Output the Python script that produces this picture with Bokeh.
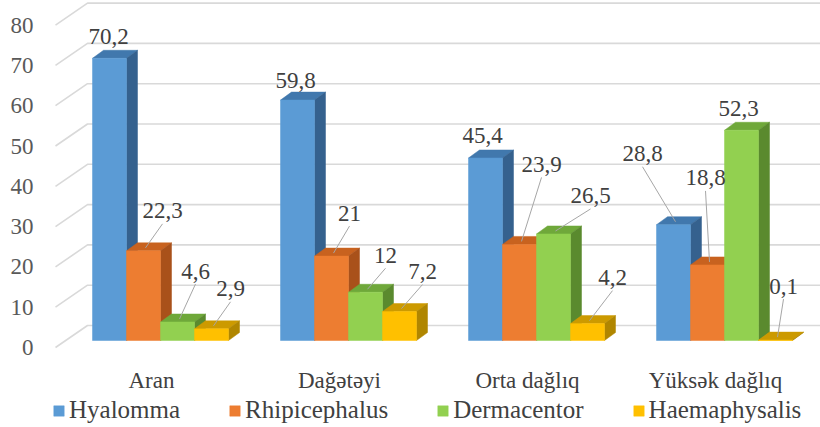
from bokeh.plotting import figure
from bokeh.models import Range1d, LinearAxis, FixedTicker, Legend, LegendItem, ColumnDataSource
from bokeh.core.properties import value
from bokeh.embed import file_html
from bokeh.resources import INLINE

# ---------------- data ----------------
categories = ["Aran", "Dağətəyi", "Orta dağlıq", "Yüksək dağlıq"]
series_names = ["Hyalomma", "Rhipicephalus", "Dermacentor", "Haemaphysalis"]
hyalomma = [70.2, 59.8, 45.4, 28.8]
rhipicephalus = [22.3, 21, 23.9, 18.8]
dermacentor = [4.6, 12, 26.5, 52.3]
haemaphysalis = [2.9, 7.2, 4.2, 0.1]
y_ticks = [0, 10, 20, 30, 40, 50, 60, 70, 80]

series_values = [hyalomma, rhipicephalus, dermacentor, haemaphysalis]

# ---------------- style / layout ----------------
FONT = "Tinos"
W, H = 820, 427
LEFT = 40                 # left border (axis area)
GROUP_PX = 188.0          # px between group centres
X0_PX = 160.0             # px of first group centre
BASE_PX = 340.0           # px of bar base (front plane)
PX_PER_UNIT = 4.02        # px per value unit (front plane)
BAR_PX = 34.0
SIDE_PX = 11.0
TOP_PX = 8.0

front_col = ["#5B9BD5", "#ED7D31", "#92D050", "#FFC000"]
top_col = ["#4178AD", "#C8621F", "#6FA83A", "#CC9A00"]
side_col = ["#35618E", "#A9511A", "#5A8A2E", "#B08600"]

# label offsets (px) from front-top centre of each bar, [series][group]
label_dx = [[-1, -2, -3, -31], [19, 18, 22, -2], [18, 20, 37, -3], [19, 23, 25, 8]]
label_dy = [[-22, -20, -22, -71], [-40, -43, -80, -87], [-51, -37, -38, -22], [-40, -40, -46, -54]]


def X(px):
    return (px - X0_PX) / GROUP_PX


def Y(py):
    return (BASE_PX - py) / PX_PER_UNIT


def ux(px):
    return px / GROUP_PX


def uy(px):
    return px / PX_PER_UNIT


p = figure(width=W, height=H, output_backend="svg", toolbar_location=None,
           x_range=Range1d(X(LEFT), X(W)), y_range=Range1d(Y(H), Y(0)),
           x_axis_type=None, y_axis_type=None,
           min_border_left=LEFT, min_border_right=0, min_border_top=0, min_border_bottom=0)
p.outline_line_color = None
p.background_fill_color = "white"
p.border_fill_color = "white"

# ---------------- y axis on its own range (label plane) ----------------
LAB0_PX = 347.0
LAB_PX_PER_UNIT = 4.03
p.extra_y_ranges = {"lab": Range1d((LAB0_PX - H) / LAB_PX_PER_UNIT, LAB0_PX / LAB_PX_PER_UNIT)}
yax = LinearAxis(y_range_name="lab", ticker=FixedTicker(ticks=y_ticks))
yax.axis_line_color = None
yax.major_tick_line_color = None
yax.minor_tick_line_color = None
yax.major_tick_out = 0
yax.major_label_standoff = 7
yax.major_label_text_font = FONT
yax.major_label_text_font_size = "23px"
yax.major_label_text_color = "#595959"
p.add_layout(yax, "left")

# ---------------- back wall gridlines + slanted connectors ----------------
WALL_DX = 32.0
WALL_DY = 22.0
AXIS_X_PX = 55.0
gx, gy = [], []
for t in y_ticks:
    py_lab = LAB0_PX - LAB_PX_PER_UNIT * t
    gx.append([X(AXIS_X_PX), X(AXIS_X_PX + WALL_DX), X(W)])
    gy.append([Y(py_lab), Y(py_lab - WALL_DY), Y(py_lab - WALL_DY)])
p.multi_line(gx, gy, line_color="#D9D9D9", line_width=1.6)

# ---------------- 3D bars ----------------
bw = ux(BAR_PX)
sdx = ux(SIDE_PX)
tdy = uy(TOP_PX)
front_renderers = []
for j, vals in enumerate(series_values):
    xs_c = [i + (j - 1.5) * bw for i in range(len(categories))]
    top_xs, top_ys, side_xs, side_ys = [], [], [], []
    for xc, v in zip(xs_c, vals):
        xl, xr = xc - bw / 2, xc + bw / 2
        top_xs.append([xl, xr, xr + sdx, xl + sdx])
        top_ys.append([v, v, v + tdy, v + tdy])
        side_xs.append([xr, xr + sdx, xr + sdx, xr])
        side_ys.append([0, tdy, v + tdy, v])
    p.patches(top_xs, top_ys, fill_color=top_col[j], line_color=top_col[j], line_width=0.5)
    p.patches(side_xs, side_ys, fill_color=side_col[j], line_color=side_col[j], line_width=0.5)
    src = ColumnDataSource(dict(x=xs_c, top=vals))
    r = p.vbar(x="x", top="top", bottom=0, width=bw, source=src,
               fill_color=front_col[j], line_color=front_col[j], line_width=0.5)
    front_renderers.append(r)

# ---------------- data labels + leader lines ----------------
lx, ly, lt = [], [], []
ldx, ldy = [], []
for j, vals in enumerate(series_values):
    for i, v in enumerate(vals):
        bx_px = X0_PX + GROUP_PX * i + (j - 1.5) * BAR_PX
        by_px = BASE_PX - PX_PER_UNIT * v
        cx_px = bx_px + label_dx[j][i]
        cy_px = by_px + label_dy[j][i]
        lx.append(X(cx_px))
        ly.append(Y(cy_px))
        lt.append(f"{v:g}".replace(".", ","))
        if (label_dx[j][i] ** 2 + label_dy[j][i] ** 2) ** 0.5 > 30:
            ldx.append([X(bx_px + 2), X(cx_px)])
            ldy.append([Y(by_px - 3), Y(cy_px + 13)])
p.multi_line(ldx, ldy, line_color="#A6A6A6", line_width=1)
p.text(lx, ly, text=lt, text_font=value(FONT), text_font_size="23px",
       text_align="center", text_baseline="middle", text_color="#404040")

# ---------------- category labels ----------------
CAT_PY = 380.0
CAT_SHIFT_PX = -9.0
p.text([X(X0_PX + GROUP_PX * i + CAT_SHIFT_PX) for i in range(len(categories))],
       [Y(CAT_PY)] * len(categories), text=categories,
       text_font=value(FONT), text_font_size="23px",
       text_align="center", text_baseline="middle", text_color="#404040")

# ---------------- legend ----------------
legend = Legend(items=[LegendItem(label=n, renderers=[r]) for n, r in zip(series_names, front_renderers)],
                orientation="horizontal", location=(52 - LEFT, 3))
legend.label_text_font = FONT
legend.label_text_font_size = "25px"
legend.label_text_color = "#404040"
legend.glyph_width = 13
legend.glyph_height = 13
legend.label_standoff = 4
legend.spacing = 48
legend.padding = 0
legend.margin = 0
legend.border_line_color = None
legend.background_fill_alpha = 0
p.add_layout(legend, "center")

open("out.html", "w").write(file_html(p, INLINE))
